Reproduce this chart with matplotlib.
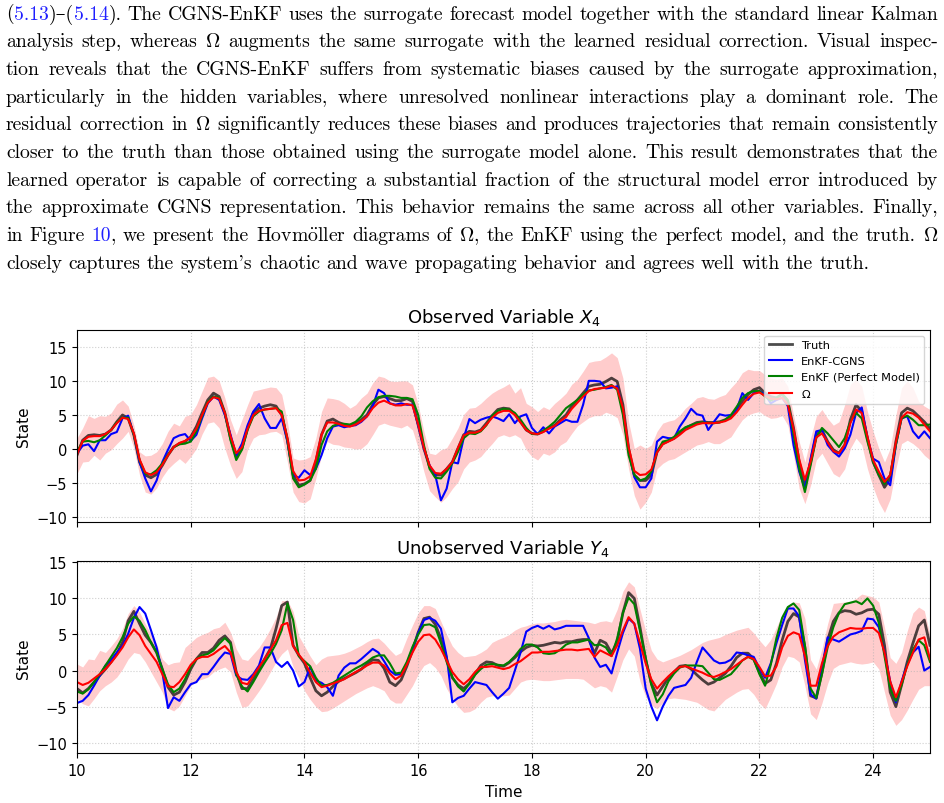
import re
import numpy as np
import matplotlib
matplotlib.use("Agg")
import matplotlib.pyplot as plt

# time axis, one sample every 0.1
time = np.round(np.arange(151) * 0.1 + 10.0, 1)

# ---- observed variable X4 ----
x4_truth = [-0.9, 1.3, 2.0, 2.1, 2.0, 2.2, 2.8, 4.0, 5.0, 4.5,
            2.1, -1.9, -3.8, -4.2, -3.7, -2.4, -0.9, 0.3, 0.8, 1.1,
            1.8, 3.3, 5.3, 7.2, 8.2, 7.7, 5.3, 1.6, -1.1, 0.1,
            3.1, 5.3, 6.0, 6.3, 6.5, 6.3, 5.0, 1.4, -3.8, -5.3,
            -5.1, -4.6, -1.9, 2.1, 4.1, 4.4, 3.9, 3.6, 3.4, 3.8,
            4.3, 5.0, 6.5, 7.5, 7.7, 7.4, 7.1, 7.1, 7.4, 7.0,
            3.5, 0.1, -2.6, -3.8, -3.8, -2.9, -1.9, 0.1, 2.1, 2.6,
            2.5, 2.8, 3.8, 4.9, 5.8, 6.0, 5.9, 5.1, 4.0, 2.8,
            2.3, 2.2, 2.6, 3.1, 3.5, 4.3, 5.0, 6.3, 7.2, 8.2,
            9.2, 9.4, 9.5, 9.9, 10.4, 9.9, 6.5, 0.1, -3.8, -4.6,
            -4.6, -3.8, -0.4, 0.8, 1.2, 1.6, 2.3, 3.1, 3.5, 3.9,
            4.0, 3.9, 3.9, 4.0, 4.3, 4.8, 5.8, 7.0, 8.0, 8.7,
            9.0, 8.2, 7.7, 7.5, 8.0, 7.0, 3.1, -1.9, -5.3, -1.9,
            2.1, 2.8, 1.1, -0.1, -0.6, 0.6, 4.3, 6.5, 5.5, 1.6,
            -1.9, -3.8, -5.6, -4.3, 1.1, 5.3, 6.0, 5.6, 4.8, 4.0,
            3.0]
x4_cgns = [-0.6, 0.5, 0.7, -0.3, 1.3, 1.3, 2.2, 2.5, 4.5, 4.9,
           2.1, -1.9, -4.3, -6.2, -4.6, -1.9, -0.1, 1.6, 2.0, 2.2,
           1.2, 2.1, 4.5, 6.7, 7.7, 7.2, 5.0, 2.1, -0.9, 0.8,
           3.5, 5.5, 6.6, 4.5, 3.1, 3.1, 4.5, 1.1, -3.8, -4.2,
           -3.1, -3.8, -2.9, -0.9, 1.6, 3.3, 3.5, 3.2, 3.4, 3.5,
           4.0, 4.8, 6.3, 8.7, 8.2, 6.7, 6.5, 6.7, 6.5, 6.5,
           3.5, 0.1, -2.4, -3.8, -7.5, -5.8, -1.9, -2.1, 1.6, 4.4,
           3.8, 4.3, 4.6, 4.8, 4.5, 4.1, 5.1, 3.8, 4.8, 5.1,
           3.1, 2.2, 3.2, 2.3, 3.3, 3.8, 4.3, 4.0, 4.0, 6.5,
           10.0, 10.0, 9.9, 8.9, 9.0, 9.2, 5.5, -0.4, -4.1, -5.6,
           -5.6, -4.3, 1.1, 1.8, 1.6, 1.6, 3.3, 4.5, 5.9, 5.1,
           4.9, 2.8, 4.0, 5.1, 4.9, 5.0, 5.8, 8.2, 7.2, 8.2,
           8.5, 8.0, 6.7, 7.2, 7.5, 6.3, 0.6, -3.3, -5.8, -1.4,
           2.6, 2.8, 0.6, -0.4, -1.1, 0.1, 2.1, 5.3, 6.1, 1.6,
           -1.4, -1.9, -4.3, -5.3, 0.6, 4.5, 4.8, 2.6, 1.6, 2.6,
           1.6]
x4_perfect = [-0.4, 1.1, 1.2, 1.0, 1.3, 2.0, 2.8, 3.9, 4.6, 4.6,
              2.1, -1.6, -3.6, -3.7, -3.1, -2.1, -0.8, 0.3, 0.7, 0.8,
              1.1, 2.6, 4.8, 6.9, 7.7, 7.5, 5.3, 1.3, -1.6, -0.1,
              2.8, 4.8, 5.5, 5.8, 5.9, 6.0, 5.5, 1.3, -4.3, -5.6,
              -5.2, -4.6, -2.9, 0.6, 2.6, 3.4, 3.7, 3.7, 3.6, 4.0,
              4.8, 6.1, 7.0, 7.6, 7.8, 7.8, 7.7, 7.5, 7.5, 7.3,
              5.0, 0.6, -2.9, -4.2, -4.3, -3.3, -2.1, -0.4, 1.6, 2.3,
              2.2, 2.6, 3.5, 4.9, 5.6, 5.9, 5.8, 5.3, 4.3, 3.1,
              2.2, 2.2, 2.7, 3.3, 4.0, 5.0, 6.0, 6.6, 7.2, 8.0,
              8.6, 8.7, 8.9, 9.1, 9.4, 8.7, 5.0, -0.9, -3.8, -4.6,
              -4.3, -3.3, -0.4, 1.1, 1.3, 1.8, 2.6, 3.2, 3.5, 3.8,
              3.9, 3.8, 3.8, 3.9, 4.3, 5.0, 6.2, 7.5, 8.2, 8.5,
              8.5, 7.7, 7.1, 7.5, 8.1, 7.2, 2.1, -2.9, -6.3, -2.4,
              1.6, 3.1, 2.3, 1.3, 0.3, 1.6, 4.0, 5.3, 4.5, 1.1,
              -1.9, -3.8, -5.1, -3.8, 0.6, 4.5, 4.9, 4.3, 3.5, 3.5,
              3.6]
x4_omega = [-0.8, 1.2, 1.8, 1.9, 1.9, 2.2, 2.8, 3.8, 4.6, 4.4,
            2.3, -1.5, -3.4, -3.8, -3.4, -2.3, -0.9, 0.3, 0.9, 1.2,
            1.7, 3.0, 5.0, 6.8, 7.6, 7.4, 5.3, 1.9, -0.6, 0.3,
            3.0, 5.0, 5.6, 5.8, 5.9, 6.0, 5.0, 1.6, -3.2, -4.6,
            -4.5, -4.0, -1.5, 2.1, 3.9, 3.9, 3.7, 3.4, 3.3, 3.6,
            4.1, 4.8, 6.0, 6.8, 7.1, 6.7, 6.4, 6.4, 6.6, 6.4,
            3.6, 0.2, -2.4, -3.5, -3.6, -2.9, -1.9, 0.2, 2.0, 2.4,
            2.4, 2.7, 3.6, 4.6, 5.3, 5.6, 5.6, 5.0, 3.9, 2.8,
            2.3, 2.2, 2.5, 3.0, 3.4, 4.1, 4.7, 5.9, 6.8, 7.7,
            8.5, 8.8, 8.9, 9.0, 9.3, 8.9, 6.0, 0.3, -3.2, -3.8,
            -3.7, -3.0, -0.5, 0.7, 1.1, 1.5, 2.1, 2.8, 3.2, 3.6,
            3.8, 3.8, 3.8, 3.9, 4.1, 4.5, 5.4, 6.5, 7.5, 8.1,
            8.3, 7.8, 7.4, 7.3, 7.5, 6.5, 3.0, -1.5, -4.5, -1.8,
            1.7, 2.3, 1.0, -0.3, -0.6, 0.6, 3.8, 5.8, 5.3, 1.8,
            -1.6, -3.3, -4.8, -3.8, 1.0, 4.6, 5.4, 5.2, 4.6, 3.6,
            2.6]
x4_upper = [1.6, 3.1, 4.9, 4.5, 4.9, 4.8, 5.3, 6.6, 7.2, 6.3,
            3.5, -0.4, -1.0, -0.9, -0.4, 0.8, 2.6, 3.8, 3.4, 4.8,
            5.1, 6.5, 8.5, 10.5, 10.7, 10.0, 7.5, 4.3, 2.1, 4.3,
            6.5, 8.5, 8.7, 8.9, 9.1, 9.0, 8.0, 4.0, -1.3, -1.6,
            -1.5, -1.1, 1.6, 5.5, 7.5, 7.4, 7.2, 6.7, 6.0, 6.5,
            7.5, 8.2, 9.7, 10.7, 10.5, 10.0, 9.9, 10.0, 10.0, 9.4,
            6.5, 2.6, -0.6, -0.8, -0.1, 0.2, 1.6, 3.1, 5.1, 6.0,
            6.1, 6.7, 7.5, 8.2, 8.7, 9.1, 9.6, 8.2, 9.0, 6.7,
            6.2, 5.5, 6.2, 5.8, 6.7, 7.4, 8.2, 9.5, 10.2, 11.4,
            12.7, 12.9, 13.0, 13.5, 14.1, 13.4, 10.4, 4.0, 0.1, 0.6,
            0.1, 0.6, 2.6, 3.8, 4.1, 4.3, 5.0, 6.0, 6.7, 7.5,
            7.7, 7.4, 7.3, 7.7, 8.0, 9.0, 9.9, 11.2, 11.7, 11.5,
            11.5, 10.9, 10.4, 10.2, 10.4, 9.2, 5.0, 1.1, -1.9, 1.6,
            4.8, 5.8, 4.5, 3.5, 4.0, 6.5, 9.5, 10.2, 9.2, 5.5,
            2.6, 0.1, -1.9, 0.1, 5.0, 9.0, 10.0, 9.0, 7.0, 6.3,
            5.8]
x4_lower = [-3.6, -1.9, -1.8, -0.9, -1.6, -0.6, -0.1, 0.8, 1.6, 2.6,
            0.1, -3.8, -6.3, -6.6, -5.7, -4.1, -2.9, -2.1, -1.4, -2.1,
            -1.1, 0.1, 2.2, 3.8, 4.0, 3.1, 0.1, -2.4, -4.3, -3.3,
            -0.1, 1.6, 2.1, 2.2, 2.5, 2.6, 2.1, -1.9, -6.3, -7.7,
            -7.9, -7.3, -4.3, -0.9, 1.1, 0.7, 0.6, 0.3, 0.2, 0.0,
            0.1, 0.8, 2.1, 3.5, 3.8, 3.5, 3.3, 3.1, 3.5, 2.8,
            0.1, -3.3, -6.1, -7.0, -7.8, -7.0, -5.8, -4.8, -2.9, -1.9,
            -1.6, -1.1, -0.1, 0.8, 1.8, 2.1, 1.8, 2.1, 1.6, -0.1,
            -1.1, -1.6, -0.6, -0.9, -0.4, 0.6, 1.1, 2.3, 3.4, 4.0,
            4.6, 4.9, 4.9, 5.4, 5.1, 4.6, 2.1, -2.9, -6.8, -8.8,
            -7.8, -6.3, -2.9, -2.1, -1.6, -1.4, -0.9, -0.4, 0.1, 0.6,
            0.8, 1.1, 0.8, 0.8, 1.3, 1.8, 3.1, 4.3, 5.0, 5.3,
            5.5, 4.9, 4.5, 4.6, 4.9, 3.5, -0.9, -5.8, -8.0, -5.3,
            -1.6, -0.6, -2.1, -3.6, -4.1, -2.9, 0.1, 1.6, 0.6, -2.9,
            -5.6, -7.8, -9.3, -7.3, -2.9, 0.8, 1.3, 0.8, 0.1, -0.9,
            -1.6]

# ---- unobserved variable Y4 ----
y4_truth = [-2.5, -3.1, -2.5, -1.6, -0.7, 0.2, 1.2, 2.3, 3.9, 6.9,
            8.2, 6.5, 4.9, 3.9, 2.5, 0.2, -2.3, -3.4, -3.0, -1.6,
            0.2, 1.6, 2.5, 2.5, 3.1, 4.2, 4.8, 3.9, -0.2, -2.5,
            -2.5, -1.2, 0.2, 1.6, 3.0, 5.8, 9.0, 9.5, 3.5, 2.1,
            1.0, -1.0, -2.8, -3.5, -3.0, -2.2, -1.5, -1.1, -0.7, -0.3,
            0.2, 0.9, 1.5, 1.4, 0.3, -1.6, -2.1, -1.3, 0.6, 2.8,
            5.3, 7.2, 7.4, 6.4, 4.4, 1.6, -1.0, -2.0, -2.5, -1.8,
            -0.5, 0.7, 1.2, 1.1, 0.7, 0.6, 1.1, 1.8, 2.6, 3.2,
            3.5, 3.4, 3.5, 3.7, 3.9, 3.8, 4.0, 4.0, 4.2, 4.3,
            4.3, 2.4, 4.2, 3.8, 2.4, 4.0, 8.0, 10.8, 10.0, 6.0,
            1.5, -1.8, -3.4, -2.2, -1.0, -0.2, 0.6, 0.7, 0.2, -0.6,
            -1.3, -1.9, -1.6, -1.0, -0.4, 0.6, 1.8, 2.4, 2.4, 1.6,
            -0.2, -1.8, -1.3, 1.0, 4.2, 6.8, 7.9, 7.4, 3.2, -3.5,
            -3.8, -0.3, 4.2, 6.8, 8.0, 8.3, 8.2, 7.8, 8.0, 8.4,
            8.5, 7.8, 3.5, -3.0, -5.0, -2.0, 1.2, 3.8, 6.2, 7.0,
            3.5]
y4_cgns = [-4.5, -4.2, -3.4, -2.1, -0.7, 0.7, 1.5, 2.5, 3.4, 5.1,
           7.3, 8.8, 7.9, 5.6, 3.2, -0.2, -5.2, -3.7, -4.2, -3.0,
           -1.9, -1.6, -0.5, -0.5, 0.5, 1.6, 2.5, 2.3, -0.7, -1.2,
           -1.3, -0.5, 0.7, 3.2, 3.2, 1.2, 0.5, 1.2, 0.0, -2.2,
           -1.6, 0.5, -1.4, -1.7, -2.3, -3.5, -0.7, 0.4, 1.0, 1.0,
           1.6, 2.3, 3.0, 2.5, 1.3, 0.0, -0.6, -0.5, 1.0, 3.0,
           5.2, 7.0, 7.3, 6.9, 5.8, 2.0, -4.4, -3.8, -3.5, -2.5,
           -1.6, -1.8, -2.0, -3.0, -3.9, -3.2, -2.4, 0.0, 2.5, 5.4,
           5.9, 6.2, 5.8, 6.2, 5.7, 5.9, 6.2, 6.2, 6.2, 6.2,
           4.5, 1.8, 0.5, 0.8, -0.4, 2.5, 5.2, 7.2, 6.5, 3.0,
           -2.5, -5.0, -6.9, -5.0, -3.5, -2.4, -2.2, -2.0, -1.0, 1.2,
           3.2, 2.3, 1.4, 1.0, 1.1, 1.5, 2.5, 2.4, 2.1, 1.9,
           0.3, -1.0, 1.0, 3.8, 6.3, 8.6, 8.6, 7.5, 1.5, -3.3,
           -3.9, 0.5, 4.6, 4.3, 4.0, 4.5, 5.0, 5.2, 5.5, 7.2,
           7.1, 6.0, 2.5, -1.5, -4.4, -1.5, 0.9, 2.5, 3.3, 0.0,
           0.5]
y4_perfect = [-2.9, -3.2, -2.6, -1.6, -0.5, 0.7, 1.9, 3.1, 4.6, 6.5,
              7.5, 6.9, 5.6, 3.9, 2.5, 0.2, -1.9, -3.0, -2.5, -1.2,
              0.5, 1.6, 2.1, 2.3, 2.8, 3.7, 4.5, 3.7, -0.5, -2.2,
              -2.9, -1.6, -0.2, 1.1, 2.3, 3.7, 5.6, 9.3, 7.0, 2.0,
              1.3, 0.6, -1.0, -2.1, -2.0, -1.7, -1.2, -0.7, -0.2, 0.3,
              0.7, 1.2, 1.8, 2.1, 2.1, 1.0, -0.4, -0.3, 1.2, 3.3,
              5.0, 6.3, 6.4, 6.0, 3.8, 1.2, -0.9, -2.2, -2.9, -1.8,
              -0.6, 0.2, 0.8, 0.9, 0.8, 0.7, 1.2, 2.0, 3.0, 3.6,
              3.6, 3.2, 2.4, 2.3, 2.4, 2.9, 3.6, 3.9, 3.9, 4.1,
              4.3, 3.5, 3.6, 3.2, 2.0, 4.5, 8.0, 10.1, 9.2, 5.5,
              1.8, -2.0, -4.4, -3.3, -1.5, -0.4, 0.4, 0.7, 0.7, 0.7,
              0.6, -0.3, -1.2, -1.3, -0.9, -0.5, 0.4, 1.4, 1.9, 1.5,
              -0.5, -2.1, 0.8, 4.5, 7.3, 8.8, 9.3, 8.4, 3.5, -2.5,
              -3.8, -0.5, 3.2, 6.0, 8.0, 9.2, 9.4, 9.6, 9.2, 10.0,
              9.0, 6.6, 2.0, -2.5, -4.2, -2.0, 0.8, 2.9, 4.2, 3.5,
              1.2]
y4_omega = [-1.6, -2.0, -1.7, -1.1, -0.5, 0.2, 1.1, 2.1, 3.2, 4.6,
            5.7, 4.9, 3.4, 2.3, 1.2, -0.5, -2.2, -2.3, -1.6, -0.5,
            0.8, 1.6, 1.9, 1.9, 2.3, 2.9, 3.4, 2.5, -0.2, -1.7,
            -1.9, -0.7, 0.5, 1.6, 2.9, 4.2, 6.3, 6.6, 3.4, 2.2,
            1.2, -0.3, -1.6, -2.3, -2.1, -1.8, -1.5, -1.2, -0.7, -0.2,
            0.2, 0.7, 1.1, 1.1, 0.7, -0.4, -1.2, -0.7, 0.8, 2.5,
            4.0, 4.9, 5.0, 4.3, 3.0, 1.4, -0.2, -1.2, -1.9, -1.2,
            -0.2, 0.5, 0.5, 0.6, 0.4, 0.2, 0.4, 0.9, 1.3, 1.9,
            2.5, 2.5, 2.6, 2.6, 2.7, 2.8, 2.9, 2.9, 2.8, 2.9,
            3.0, 1.9, 2.8, 2.4, 2.0, 3.5, 5.6, 7.4, 6.5, 3.8,
            1.0, -1.2, -2.5, -1.6, -0.8, -0.1, 0.5, 0.6, 0.3, 0.0,
            -0.3, -0.7, -0.9, -0.6, -0.2, 0.2, 0.8, 1.4, 1.9, 1.6,
            0.5, -0.8, -0.7, 0.6, 3.2, 4.8, 5.3, 5.0, 2.0, -2.1,
            -2.1, 1.0, 3.4, 4.7, 5.3, 5.6, 5.9, 5.8, 5.8, 5.9,
            5.9, 5.2, 2.5, -1.5, -3.7, -1.6, 0.6, 2.5, 4.3, 4.6,
            1.6]
y4_upper = [0.9, 0.5, 1.6, 1.5, 2.8, 2.5, 3.4, 4.4, 5.8, 7.9,
            9.0, 8.1, 6.5, 5.1, 3.7, 1.6, 0.8, 1.1, 1.2, 3.2,
            3.9, 4.6, 5.0, 5.3, 5.8, 6.0, 6.7, 5.3, 3.0, 1.6,
            1.4, 2.3, 3.2, 4.4, 5.8, 7.4, 9.7, 9.7, 8.2, 4.8,
            3.4, 2.0, 0.8, 1.6, 2.0, 2.1, 2.2, 2.4, 2.7, 3.1,
            3.5, 4.0, 4.4, 4.5, 3.8, 2.9, 2.1, 2.5, 4.5, 6.3,
            8.0, 9.0, 9.0, 8.6, 6.8, 5.0, 3.4, 2.5, 1.9, 2.0,
            2.1, 2.5, 3.0, 3.9, 4.3, 4.6, 5.0, 5.6, 6.0, 6.2,
            6.5, 6.6, 6.6, 6.7, 6.8, 7.0, 7.1, 7.0, 6.9, 6.8,
            6.7, 6.5, 6.8, 6.9, 6.7, 8.5, 11.0, 12.3, 11.6, 8.5,
            5.5, 2.8, 1.6, 1.2, 1.5, 1.8, 2.1, 2.5, 2.9, 3.4,
            3.9, 4.2, 4.4, 4.6, 5.0, 5.3, 5.6, 5.8, 6.0, 5.2,
            4.2, 3.3, 4.3, 6.0, 7.8, 9.0, 9.5, 9.4, 7.2, 1.5,
            0.2, 3.0, 6.5, 9.3, 9.4, 9.5, 9.6, 10.0, 10.6, 10.4,
            10.2, 9.5, 6.0, 1.8, 1.0, 2.5, 5.5, 8.0, 8.8, 8.3,
            4.9]
y4_lower = [-3.9, -4.6, -4.9, -3.9, -2.8, -2.1, -1.6, -0.9, 0.2, 1.6,
            2.5, 2.3, 1.2, -0.2, -1.6, -3.0, -5.2, -5.6, -4.9, -3.5,
            -2.1, -1.4, -1.2, -0.9, -0.2, 0.2, 0.5, -0.2, -3.0, -5.1,
            -4.9, -3.9, -2.8, -1.6, -0.2, 1.2, 2.3, 3.0, 0.5, -1.0,
            -2.8, -4.0, -5.0, -5.7, -5.6, -5.2, -4.7, -4.2, -3.7, -3.2,
            -2.8, -2.4, -2.1, -2.4, -2.8, -4.0, -4.5, -4.5, -3.3, -2.1,
            -0.5, 0.7, 1.1, 0.4, -0.7, -2.5, -3.9, -5.0, -5.8, -5.7,
            -5.3, -4.4, -3.7, -3.5, -3.5, -3.5, -3.4, -2.5, -1.6, -1.3,
            -1.2, -1.3, -1.4, -1.4, -1.3, -1.2, -1.1, -1.1, -1.1, -1.2,
            -1.8, -2.4, -2.1, -2.3, -3.0, -0.8, 1.5, 3.0, 2.0, -1.5,
            -3.6, -4.8, -5.3, -4.5, -3.9, -3.8, -3.9, -4.0, -4.2, -4.4,
            -4.9, -5.4, -5.6, -4.8, -4.0, -3.5, -3.0, -2.6, -2.5, -3.3,
            -4.5, -5.3, -3.6, -1.8, 0.5, 2.0, 1.8, 1.2, -2.1, -6.0,
            -6.8, -4.5, -1.8, 0.3, 0.8, 1.0, 1.2, 1.0, 0.9, 1.0,
            1.2, 0.2, -3.0, -6.2, -7.6, -6.8, -5.5, -4.0, -2.6, -2.1,
            -2.1]

# text above the chart, one entry per printed line; [..] marks a link
para_lines = [
    "([5.13])–([5.14]). The CGNS-EnKF uses the surrogate forecast model together with the standard linear Kalman",
    "analysis step, whereas Ω augments the same surrogate with the learned residual correction. Visual inspec-",
    "tion reveals that the CGNS-EnKF suffers from systematic biases caused by the surrogate approximation,",
    "particularly in the hidden variables, where unresolved nonlinear interactions play a dominant role. The",
    "residual correction in Ω significantly reduces these biases and produces trajectories that remain consistently",
    "closer to the truth than those obtained using the surrogate model alone. This result demonstrates that the",
    "learned operator is capable of correcting a substantial fraction of the structural model error introduced by",
    "the approximate CGNS representation. This behavior remains the same across all other variables. Finally,",
    "in Figure [10], we present the Hovmöller diagrams of Ω, the EnKF using the perfect model, and the truth. Ω",
    "closely captures the system's chaotic and wave propagating behavior and agrees well with the truth.",
]

W, H = 944, 804
fig = plt.figure(figsize=(W / 100, H / 100), dpi=100)


def px_box(left, top, right, bottom):
    return [left / W, 1 - bottom / H, (right - left) / W, (bottom - top) / H]


def draw_panel(ax, truth, cgns, perfect, omega, lower, upper, title):
    ax.fill_between(time, lower, upper, color='r', alpha=0.2, linewidth=0)
    ax.plot(time, truth, color='k', alpha=0.7, lw=2, label='Truth')
    ax.plot(time, cgns, color='b', lw=1.5, label='EnKF-CGNS')
    ax.plot(time, perfect, color='g', lw=1.5, label='EnKF (Perfect Model)')
    ax.plot(time, omega, color='r', lw=1.5, label=r'$\Omega$')
    ax.set_title(title, fontsize=13)
    ax.set_ylabel('State', fontsize=11)
    ax.tick_params(labelsize=10.5)
    ax.grid(True, linestyle=':', alpha=0.6)
    ax.set_xlim(10, 25)


ax1 = fig.add_axes(px_box(77, 331, 930, 522.7))
ax2 = fig.add_axes(px_box(77, 562.3, 930, 754.3), sharex=ax1)

draw_panel(ax1, x4_truth, x4_cgns, x4_perfect, x4_omega, x4_lower, x4_upper,
           'Observed Variable $X_4$')
draw_panel(ax2, y4_truth, y4_cgns, y4_perfect, y4_omega, y4_lower, y4_upper,
           'Unobserved Variable $Y_4$')
ax1.set_ylim(-10.64, 17.45)
ax2.set_ylim(-11.47, 15.14)
ax1.legend(loc='upper right', fontsize=8.2)
plt.setp(ax1.get_xticklabels(), visible=False)
ax2.set_xlabel('Time', fontsize=11)

# paragraph, justified line by line
LEFT, RIGHT = 6, 938
LAST_END = 873          # where the short last line stops in the reference
BASE0, STEP = 19.5, 27.7
LINK = '#2020ff'
renderer = fig.canvas.get_renderer()


def make_text(s, color, size):
    s = s.replace('Ω', r'$\Omega$').replace('ö', r'$\ddot{\mathrm{o}}$')
    return fig.text(0, 0, s, fontsize=size, family=['cmr10', 'DejaVu Serif'],
                    math_fontfamily='cm', color=color, va='baseline', ha='left')


def build_line(line, size):
    words = []
    for w in line.split():
        segs = []
        for part in re.split(r'(\[[^\]]*\])', w):
            if not part:
                continue
            if part.startswith('['):
                segs.append(make_text(part[1:-1], LINK, size))
            else:
                segs.append(make_text(part, 'black', size))
        widths = [s.get_window_extent(renderer).width for s in segs]
        words.append((segs, widths))
    return words


# pick the font size from the natural width of the last line
probe = build_line(para_lines[-1], 10)
probe_w = sum(sum(ws) for _, ws in probe) + (len(probe) - 1) * 10 * 100 / 72 * 0.333
for segs, _ in probe:
    for s in segs:
        s.remove()
PARA_SIZE = 10 * (LAST_END - LEFT) / probe_w

for i, line in enumerate(para_lines):
    y = 1 - (BASE0 + i * STEP) / H
    words = build_line(line, PARA_SIZE)
    total = sum(sum(ws) for _, ws in words)
    if i < len(para_lines) - 1:
        gap = (RIGHT - LEFT - total) / (len(words) - 1)
    else:
        gap = PARA_SIZE * 100 / 72 * 0.333
    x = LEFT
    for segs, ws in words:
        for s, w in zip(segs, ws):
            s.set_position((x / W, y))
            x += w
        x += gap

fig.savefig('out.png', dpi=100)
